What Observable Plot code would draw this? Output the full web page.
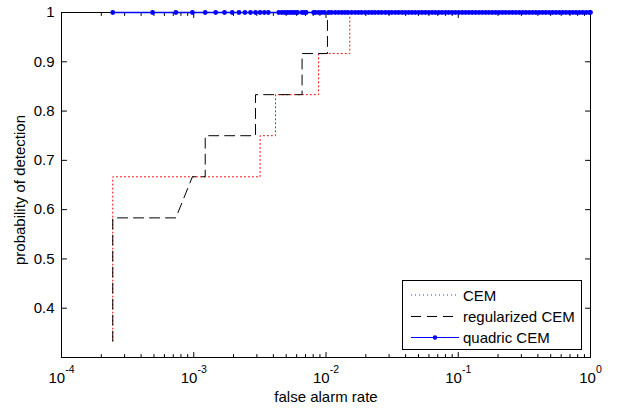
<!DOCTYPE html>
<html>
<head>
<meta charset="utf-8">
<script src="https://cdn.jsdelivr.net/npm/d3@7"></script>
<script src="https://cdn.jsdelivr.net/npm/@observablehq/plot@0.6"></script>
<style>
  html, body { margin: 0; padding: 0; background: #fff; }
  #chart svg { display: block; }
</style>
</head>
<body>
<div id="chart"></div>
<script>
// ---- data (false alarms counted out of 4096 background pixels) ----
const BACKGROUND_PIXELS = 4096;

const cemFalseAlarmCounts = [1, 1, 13, 13, 17, 17, 36, 36, 62, 62, 4096];
const cemDetection        = [0.3333, 0.6667, 0.6667, 0.75, 0.75, 0.8333, 0.8333, 0.9167, 0.9167, 1, 1];

const regFalseAlarmCounts = [1, 1, 3, 4, 5, 5, 12, 12, 27, 27, 42, 42, 4096];
const regDetection        = [0.3333, 0.5833, 0.5833, 0.6667, 0.6667, 0.75, 0.75, 0.8333, 0.8333, 0.9167, 0.9167, 1, 1];

const quadricFalseAlarmCounts = [1, 2, 3, 4, 5, 6, 7, 8, 9, 10, 11, 12, 13, 14, 15, 18, 19, 20, 21, 22, 23, 24, 25, 27, 28, 29, 33, 34, 36, 38, 40, 43, 45, 48, 51, 54, 57, 60, 64, 68, 72, 76, 81, 86, 91, 96, 102, 108, 115, 122, 129, 137, 145, 154, 163, 173, 183, 194, 206, 218, 231, 245, 260, 275, 292, 309, 328, 347, 368, 390, 414, 439, 465, 493, 522, 554, 587, 622, 660, 699, 741, 786, 833, 883, 936, 992, 1052, 1115, 1182, 1253, 1328, 1408, 1492, 1582, 1677, 1777, 1884, 1997, 2117, 2244, 2378, 2521, 2672, 2833, 3003, 3183, 3374, 3576, 3791, 4018, 4096];
const quadricDetectionRate = 1;

const xMajorTicks = [1e-4, 1e-3, 1e-2, 1e-1, 1];
const xMinorMultipliers = [2, 3, 4, 5, 6, 7, 8, 9];
const yTicks = [0.4, 0.5, 0.6, 0.7, 0.8, 0.9, 1];

const seriesNames = ["CEM", "regularized CEM", "quadric CEM"];
const xLabel = "false alarm rate";
const yLabel = "probability of detection";

// ---- tables for Plot ----
const cem = cemFalseAlarmCounts.map((c, i) => ({fa: c / BACKGROUND_PIXELS, pd: cemDetection[i]}));
const reg = regFalseAlarmCounts.map((c, i) => ({fa: c / BACKGROUND_PIXELS, pd: regDetection[i]}));
const quad = quadricFalseAlarmCounts.map(c => ({fa: c / BACKGROUND_PIXELS, pd: quadricDetectionRate}));
const xMinorTicks = xMajorTicks.slice(0, -1).flatMap(d => xMinorMultipliers.map(m => d * m));

const RED = "#ff0000", BLUE = "#0000ff";
const FONT = "'Liberation Sans', Arial, Helvetica, sans-serif";

const tickShape = {draw(context, l) { context.moveTo(0, 0); context.lineTo(0, -l); }};
const ticks = (data, opts) => Plot.vector(data, {anchor: "start", shape: tickShape, stroke: "black", strokeWidth: 1, ...opts});

const chart = Plot.plot({
  width: 628,
  height: 412,
  marginLeft: 61,
  marginRight: 38,
  marginTop: 12,
  marginBottom: 55,
  style: {fontFamily: FONT, fontSize: "15px", background: "white", color: "black"},
  x: {type: "log", domain: [1e-4, 1], axis: null},
  y: {domain: [0.3, 1], axis: null},
  marks: [
    // box
    Plot.frame({stroke: "black", strokeWidth: 1}),
    // ticks (inward, all four sides)
    ticks(xMajorTicks, {x: d => d, frameAnchor: "bottom", rotate: 0, length: 5}),
    ticks(xMajorTicks, {x: d => d, frameAnchor: "top", rotate: 180, length: 5}),
    ticks(xMinorTicks, {x: d => d, frameAnchor: "bottom", rotate: 0, length: 3}),
    ticks(xMinorTicks, {x: d => d, frameAnchor: "top", rotate: 180, length: 3}),
    ticks(yTicks, {y: d => d, frameAnchor: "left", rotate: 90, length: 5}),
    ticks(yTicks, {y: d => d, frameAnchor: "right", rotate: -90, length: 5}),
    // series
    Plot.line(cem, {x: "fa", y: "pd", stroke: RED, strokeWidth: 1, strokeDasharray: "1,3"}),
    Plot.line(reg, {x: "fa", y: "pd", stroke: "black", strokeWidth: 1, strokeDasharray: "10,6"}),
    Plot.line(quad, {x: "fa", y: "pd", stroke: BLUE, strokeWidth: 1.5}),
    Plot.dot(quad, {x: "fa", y: "pd", r: 2.4, fill: BLUE, stroke: null}),
    // tick labels
    Plot.text(yTicks, {y: d => d, text: d => String(d), frameAnchor: "left", textAnchor: "end", dx: -7, fill: "black", fontSize: 15}),
    Plot.text(xMajorTicks, {x: d => d, text: d => String(Math.round(Math.log10(d))), frameAnchor: "bottom", textAnchor: "middle", lineAnchor: "bottom", dy: 25, fill: "black", fontSize: 15}),
    // axis labels
    Plot.text([xLabel], {text: d => d, frameAnchor: "bottom", textAnchor: "middle", lineAnchor: "bottom", dy: 44, fill: "black", fontSize: 15}),
    Plot.text([yLabel], {text: d => d, frameAnchor: "left", textAnchor: "middle", rotate: -90, lineAnchor: "bottom", dx: -37, dy: 5, fill: "black", fontSize: 15})
  ]
});

// superscript exponents for the log tick labels: 10^k
const exponents = new Set(xMajorTicks.map(d => String(Math.round(Math.log10(d)))));
d3.select(chart).selectAll("g").each(function () {
  const texts = Array.from(this.querySelectorAll(":scope > text"));
  if (texts.length !== xMajorTicks.length || !texts.every(t => exponents.has(t.textContent))) return;
  texts.forEach(node => {
    const exp = node.textContent;
    const t = d3.select(node);
    t.text(null);
    t.append("tspan").text("10");
    t.append("tspan").attr("dy", "-9.5").attr("font-size", "10.5px").text(exp);
  });
});

// legend (inside the axes, lower right)
const lg = d3.select(chart).append("g").attr("font-family", FONT).attr("font-size", "15px").attr("text-anchor", "start");
lg.append("rect").attr("x", 402.5).attr("y", 280.5).attr("width", 179).attr("height", 69)
  .attr("fill", "white").attr("stroke", "black").attr("stroke-width", 1);
const rows = [
  {y: 295, stroke: RED, dash: "1,3", dot: false},
  {y: 316.5, stroke: "black", dash: "10,6", dot: false},
  {y: 337.5, stroke: BLUE, dash: null, dot: true}
];
rows.forEach((r, i) => {
  lg.append("line").attr("x1", 411).attr("x2", 459).attr("y1", r.y).attr("y2", r.y)
    .attr("stroke", r.stroke).attr("stroke-width", 1).attr("stroke-dasharray", r.dash);
  if (r.dot) lg.append("circle").attr("cx", 435).attr("cy", r.y).attr("r", 2.2).attr("fill", BLUE);
  lg.append("text").attr("x", 463).attr("y", r.y + 5.5).attr("fill", "black").attr("text-anchor", "start").text(seriesNames[i]);
});

document.getElementById("chart").appendChild(chart);
</script>
</body>
</html>
